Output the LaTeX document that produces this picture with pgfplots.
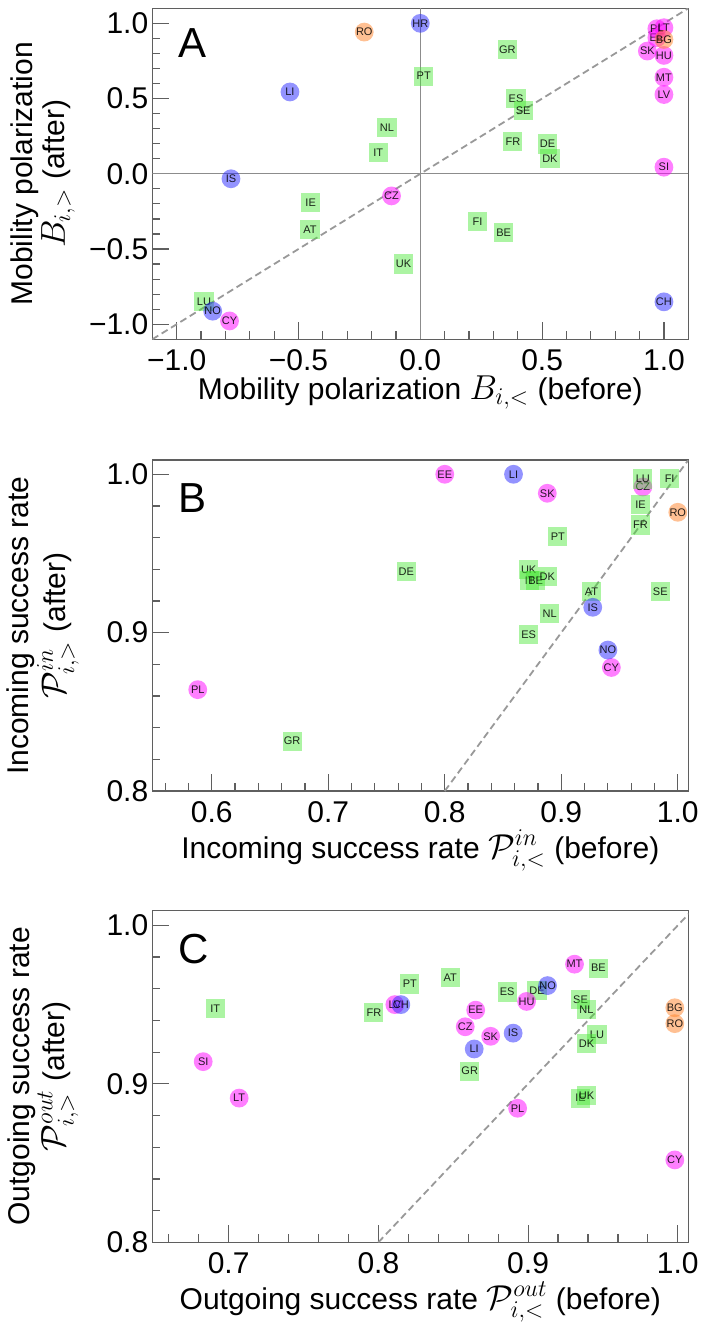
\documentclass[border=0pt]{standalone}
\usepackage{fontspec}
\setmainfont{Liberation Sans}
\usepackage{pgfplots}
\pgfplotsset{compat=1.18}

\definecolor{mag}{RGB}{255,0,255}
\definecolor{blu}{RGB}{40,40,255}
\definecolor{ora}{RGB}{255,130,40}
\definecolor{grn}{RGB}{70,230,50}
\definecolor{frame}{RGB}{95,95,95}

% big math in the axis labels
\newcommand{\mth}[1]{{\fontsize{17.5}{17.5}\selectfont$#1$}}

\tikzset{letter/.style={font=\fontsize{21}{21}\selectfont, inner sep=0pt, anchor=north west}}

\pgfplotsset{
  panel/.style={
    scale only axis, width=268pt, height=165.5pt,
    axis line style={frame, line width=0.75pt},
    tick style={frame, line width=0.6pt},
    tick align=inside, xtick pos=bottom, ytick pos=left,
    major tick length=8.5pt, minor tick length=4pt,
    tick label style={font=\fontsize{15}{16}\selectfont},
    xticklabel style={yshift=-1.5pt},
    yticklabel style={xshift=1.5pt},
    label style={font=\fontsize{15}{16}\selectfont},
    xlabel style={at={(axis description cs:0.5,0)}, anchor=base, yshift=-33.5pt},
    ylabel style={at={(axis description cs:-0.204,0.5)}, anchor=center, align=center},
  },
  cty/.style={only marks, point meta=explicit symbolic,
    nodes near coords, nodes near coords align={center},
    every node near coord/.append style={font=\fontsize{5.5}{6}\selectfont,
      text=black, text opacity=0.85, inner sep=0pt}},
  circ/.style={cty, mark=*, mark size=4.7pt,
    mark options={draw=#1, draw opacity=0, fill=#1, fill opacity=0.5}},
  sq/.style={cty, mark=square*, mark size=4.8pt,
    mark options={draw=#1, draw opacity=0, fill=#1, fill opacity=0.45}},
  diag/.style={no marks, color=black!40, line width=0.9pt, dash pattern=on 3.5pt off 2pt},
}

\begin{document}
\begin{tikzpicture}
\useasboundingbox (0,0) rectangle (350.5pt,-669.5pt);

% ---------------- A ----------------
\begin{axis}[panel, at={(76.15pt,-169.65pt)}, anchor=south west,
  xmin=-1.1, xmax=1.1, ymin=-1.1, ymax=1.1,
  xtick={-1,-0.5,0,0.5,1}, xticklabels={−1.0,−0.5,0.0,0.5,1.0},
  ytick={-1,-0.5,0,0.5,1}, yticklabels={−1.0,−0.5,0.0,0.5,1.0},
  minor xtick={-0.9,-0.8,-0.7,-0.6,-0.4,-0.3,-0.2,-0.1,0.1,0.2,0.3,0.4,0.6,0.7,0.8,0.9},
  minor ytick={-0.9,-0.8,-0.7,-0.6,-0.4,-0.3,-0.2,-0.1,0.1,0.2,0.3,0.4,0.6,0.7,0.8,0.9},
  xlabel={Mobility polarization \mth{B_{i,<}} (before)},
  xlabel style={yshift=3.5pt},
  ylabel={Mobility polarization\\\mth{B_{i,>}} (after)},
]
\addplot[no marks, color=black!45, line width=0.5pt] coordinates {(0,-1.1) (0,1.1)};
\addplot[no marks, color=black!45, line width=0.5pt] coordinates {(-1.1,0) (1.1,0)};
\addplot[diag] coordinates {(-1.1,-1.1) (1.1,1.1)};
\addplot[sq=grn] table[meta=c] {
x y c
0.357 0.827 GR
0.014 0.649 PT
-0.137 0.309 NL
-0.173 0.142 IT
0.393 0.500 ES
0.422 0.420 SE
0.380 0.216 FR
0.522 0.198 DE
0.532 0.102 DK
-0.450 -0.189 IE
-0.453 -0.369 AT
0.235 -0.318 FI
0.342 -0.389 BE
-0.069 -0.600 UK
-0.888 -0.849 LU
};
\addplot[circ=blu] table[meta=c] {
x y c
0.0 1.0 HR
-0.535 0.544 LI
-0.777 -0.033 IS
-0.852 -0.913 NO
1.0 -0.851 CH
};
\addplot[circ=mag] table[meta=c] {
x y c
1.0 0.044 SI
-0.118 -0.147 CZ
-0.783 -0.978 CY
0.971 0.904 EE
0.932 0.816 SK
1.0 0.787 HU
1.0 0.642 MT
1.0 0.527 LV
0.971 0.964 PL
1.0 0.971 LT
};
\addplot[circ=ora] table[meta=c] {
x y c
-0.230 0.942 RO
1.0 0.893 BG
};
\node[letter] at (axis description cs:0.0485,0.94) {A};
\end{axis}

% ---------------- B ----------------
\begin{axis}[panel, at={(76.15pt,-395.5pt)}, anchor=south west,
  xmin=0.549, xmax=1.009, ymin=0.8, ymax=1.009,
  xtick={0.6,0.7,0.8,0.9,1.0}, xticklabels={0.6,0.7,0.8,0.9,1.0},
  ytick={0.8,0.9,1.0}, yticklabels={0.8,0.9,1.0},
  minor xtick={0.56,0.58,0.62,0.64,0.66,0.68,0.72,0.74,0.76,0.78,0.82,0.84,0.86,0.88,0.92,0.94,0.96,0.98},
  minor ytick={0.82,0.84,0.86,0.88,0.92,0.94,0.96,0.98},
  xlabel={Incoming success rate \mth{\mathcal{P}^{in}_{i,<}} (before)},
  ylabel={Incoming success rate\\\mth{\mathcal{P}^{in}_{i,>}} (after)},
]
\addplot[diag] coordinates {(0.8,0.8) (1.009,1.009)};
\addplot[circ=mag] table[meta=c] {
x y c
0.800 1.0 EE
0.888 0.988 SK
0.970 0.992 CZ
0.943 0.878 CY
0.588 0.864 PL
};
\addplot[sq=grn] table[meta=c] {
x y c
0.970 0.997 LU
0.993 0.9975 FI
0.968 0.981 IE
0.968 0.968 FR
0.897 0.9605 PT
0.767 0.9387 DE
0.872 0.940 UK
0.873 0.933 IT
0.878 0.933 BE
0.888 0.9355 DK
0.926 0.926 AT
0.985 0.926 SE
0.890 0.912 NL
0.872 0.899 ES
0.669 0.8315 GR
};
\addplot[circ=blu] table[meta=c] {
x y c
0.859 1.0 LI
0.927 0.916 IS
0.940 0.889 NO
};
\addplot[circ=ora] table[meta=c] {
x y c
1.0 0.976 RO
};
\node[letter] at (axis description cs:0.0485,0.93) {B};
\end{axis}

% ---------------- C ----------------
\begin{axis}[panel, at={(76.15pt,-621.15pt)}, anchor=south west, height=166pt,
  xmin=0.649, xmax=1.007, ymin=0.8, ymax=1.0095,
  xtick={0.7,0.8,0.9,1.0}, xticklabels={0.7,0.8,0.9,1.0},
  ytick={0.8,0.9,1.0}, yticklabels={0.8,0.9,1.0},
  minor xtick={0.66,0.68,0.72,0.74,0.76,0.78,0.82,0.84,0.86,0.88,0.92,0.94,0.96,0.98},
  minor ytick={0.82,0.84,0.86,0.88,0.92,0.94,0.96,0.98},
  xlabel={Outgoing success rate \mth{\mathcal{P}^{out}_{i,<}} (before)},
  ylabel={Outgoing success rate\\\mth{\mathcal{P}^{out}_{i,>}} (after)},
]
\addplot[diag] coordinates {(0.8,0.8) (1.0095,1.0095)};
\addplot[sq=grn] table[meta=c] {
x y c
0.691 0.9475 IT
0.797 0.945 FR
0.821 0.963 PT
0.848 0.967 AT
0.861 0.908 GR
0.886 0.958 ES
0.906 0.959 DE
0.947 0.973 BE
0.935 0.953 SE
0.939 0.947 NL
0.946 0.931 LU
0.939 0.9255 DK
0.935 0.891 IE
0.939 0.8925 UK
};
\addplot[circ=mag] table[meta=c] {
x y c
0.683 0.914 SI
0.707 0.891 LT
0.811 0.950 LV
0.865 0.9465 EE
0.858 0.936 CZ
0.875 0.930 SK
0.899 0.952 HU
0.931 0.9755 MT
0.893 0.8846 PL
0.998 0.852 CY
};
\addplot[circ=blu] table[meta=c] {
x y c
0.815 0.950 CH
0.864 0.922 LI
0.890 0.932 IS
0.913 0.962 NO
};
\addplot[circ=ora] table[meta=c] {
x y c
0.998 0.948 BG
0.998 0.938 RO
};
\node[letter] at (axis description cs:0.0485,0.93) {C};
\end{axis}
\end{tikzpicture}
\end{document}
